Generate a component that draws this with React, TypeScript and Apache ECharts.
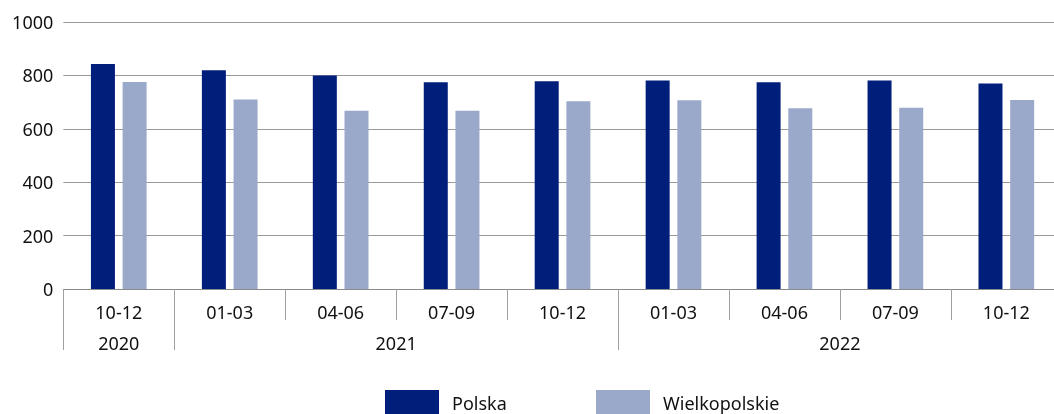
import React, { useEffect, useRef } from "react";
import * as echarts from "echarts";

const categories = ["10-12", "01-03", "04-06", "07-09", "10-12", "01-03", "04-06", "07-09", "10-12"];
const polska = [843, 819, 800, 774, 778, 781, 774, 781, 770];
const wielkopolskie = [775, 710, 668, 668, 703, 707, 677, 679, 708];
const yearSlots = ["", "2020", "", "", "", "", "2021", "", "", "", "", "", "", "", "2022", "", "", "", ""];
const yearBoundaries = [0, 2, 10, 18];
const FONT = "Noto Sans";

export default function App() {
  const ref = useRef<HTMLDivElement>(null);
  useEffect(() => {
    if (!ref.current) return;
    const chart = echarts.init(ref.current, undefined, { renderer: "svg" });
    const legendBase = {
      top: 390,
      padding: 0,
      itemWidth: 54,
      itemHeight: 25,
      icon: "rect",
      textStyle: { fontFamily: FONT, fontSize: 18, color: "#111", padding: [0, 0, 0, 8] },
    };
    chart.setOption({
      animation: false,
      textStyle: { fontFamily: FONT },
      grid: {
        left: 63.3,
        width: 998.5,
        top: 22,
        height: 267,
        containLabel: false,
        outerBoundsMode: "none",
      },
      legend: [
        { ...legendBase, data: ["Polska"], left: 385 },
        { ...legendBase, data: ["Wielkopolskie"], left: 596 },
      ],
      xAxis: [
        {
          type: "category",
          data: categories,
          position: "bottom",
          axisLine: { show: true, lineStyle: { color: "#8a8a8a", width: 1 } },
          axisTick: { show: true, interval: 0, length: 31, lineStyle: { color: "#a0a0a0", width: 1 } },
          axisLabel: { interval: 0, margin: 14, fontFamily: FONT, fontSize: 18, color: "#111", lineHeight: 18 },
        },
        {
          type: "category",
          data: yearSlots,
          boundaryGap: false,
          position: "bottom",
          axisLine: { show: false },
          axisTick: {
            show: true,
            length: 61,
            interval: (i: number) => yearBoundaries.includes(i),
            lineStyle: { color: "#a0a0a0", width: 1 },
          },
          axisLabel: {
            interval: 0,
            margin: 45,
            fontFamily: FONT,
            fontSize: 18,
            color: "#111",
            lineHeight: 18,
          },
        },
      ],
      yAxis: {
        type: "value",
        min: 0,
        max: 1000,
        interval: 200,
        axisLine: { show: false },
        axisTick: { show: false },
        splitLine: { lineStyle: { color: "#9a9a9a", width: 1 } },
        axisLabel: {
          margin: 10,
          fontFamily: FONT,
          fontSize: 18,
          color: "#111",
          formatter: (v: number) => String(v),
        },
      },
      series: [
        {
          name: "Polska",
          type: "bar",
          xAxisIndex: 0,
          data: polska,
          barWidth: 24,
          barGap: "32%",
          itemStyle: { color: "#001f7a" },
        },
        {
          name: "Wielkopolskie",
          type: "bar",
          xAxisIndex: 0,
          data: wielkopolskie,
          barWidth: 24,
          itemStyle: { color: "#9aa8ca" },
        },
      ],
    });
    return () => chart.dispose();
  }, []);
  return <div ref={ref} style={{ position: "fixed", left: 0, top: 0, width: 1054, height: 414 }} />;
}
